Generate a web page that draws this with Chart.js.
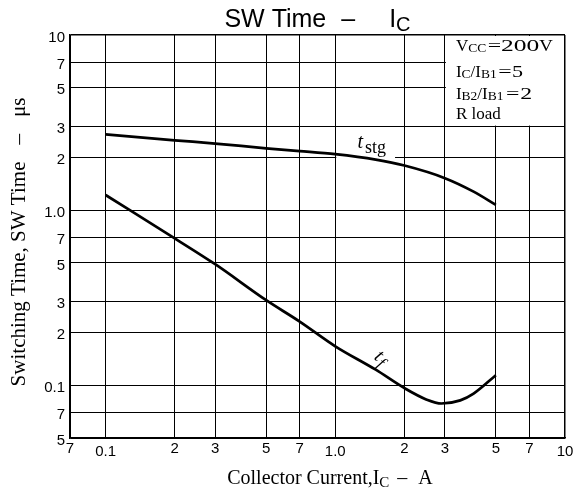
<!DOCTYPE html>
<html>
<head>
<meta charset="utf-8">
<script src="https://cdn.jsdelivr.net/npm/chart.js@4.4.1/dist/chart.umd.min.js"></script>
<style>
html,body{margin:0;padding:0;background:#fff;}
#wrap{width:585px;height:492px;position:relative;}
</style>
</head>
<body>
<div id="wrap"><canvas id="c"></canvas></div>
<script>
// ---- data ----
const xTickValues = [0.07, 0.1, 0.2, 0.3, 0.5, 0.7, 1, 2, 3, 5, 7, 10];
const xTickLabels = ['7', '0.1', '2', '3', '5', '7', '1.0', '2', '3', '5', '7', '10'];
const yTickValues = [0.05, 0.07, 0.1, 0.2, 0.3, 0.5, 0.7, 1, 2, 3, 5, 7, 10];
const yTickLabels = ['5', '7', '0.1', '2', '3', '5', '7', '1.0', '2', '3', '5', '7', '10'];

const tstgCurrent = [0.1, 0.2, 0.3, 0.5, 0.7, 1.0, 1.5, 2.0, 3.0, 4.0, 5.0];
const tstgTime    = [2.71, 2.505, 2.40, 2.255, 2.175, 2.087, 1.942, 1.797, 1.523, 1.276, 1.072];

const tfCurrent = [0.1, 0.2, 0.3, 0.5, 0.7, 1.0, 1.5, 2.0, 2.5, 2.9, 3.5, 4.0, 5.0];
const tfTime    = [1.22, 0.69, 0.491, 0.306, 0.231, 0.167, 0.1227, 0.0963, 0.0828, 0.0787, 0.0820, 0.0896, 0.1142];

const SANS = "'Liberation Sans', Arial, sans-serif";
const SERIF = "'Liberation Serif', 'Times New Roman', serif";

function segWidth(ctx, segs) {
  let w = 0;
  for (const s of segs) { ctx.font = s.f; w += (s.gap || 0) + ctx.measureText(s.t).width * (s.sx || 1); }
  return w;
}
function drawSegs(ctx, segs, x, y) {
  let cx = x;
  for (const s of segs) {
    cx += s.gap || 0;
    ctx.font = s.f;
    const w = ctx.measureText(s.t).width;
    ctx.save();
    ctx.translate(cx, y + (s.dy || 0));
    ctx.scale(s.sx || 1, 1);
    ctx.fillText(s.t, 0, 0);
    ctx.restore();
    cx += w * (s.sx || 1);
  }
}

const decorPlugin = {
  id: 'decor',
  beforeDatasetsDraw(chart) {
    const {ctx, chartArea: a, scales: {x, y}} = chart;
    ctx.save();
    ctx.fillStyle = '#fff';
    // condition box (covers the grid)
    const bx0 = x.getPixelForValue(3) + 1, by1 = y.getPixelForValue(3) - 1;
    ctx.fillRect(bx0, a.top + 1, a.right - 1 - bx0, by1 - a.top - 1);
    // background behind t_stg label
    const lx0 = x.getPixelForValue(1.01), lx1 = x.getPixelForValue(1.82);
    const ly0 = y.getPixelForValue(2.9), ly1 = y.getPixelForValue(1.92);
    ctx.fillRect(lx0, ly0, lx1 - lx0, ly1 - ly0);
    ctx.restore();
  },
  afterDraw(chart) {
    const {ctx, chartArea: a, scales: {x, y}} = chart;
    ctx.save();
    ctx.fillStyle = '#000';
    ctx.textBaseline = 'alphabetic';
    ctx.textAlign = 'left';

    // title
    const tSegs = [
      {t: 'SW Time', f: `25px ${SANS}`},
      {t: '–', f: `25px ${SANS}`, gap: 15},
      {t: 'I', f: `25px ${SANS}`, gap: 34},
      {t: 'C', f: `20px ${SANS}`, dy: 3.5}
    ];
    const tw = segWidth(ctx, tSegs);
    drawSegs(ctx, tSegs, (a.left + a.right) / 2 - tw / 2, a.top - 8);

    // x axis title
    const xSegs = [
      {t: 'Collector Current,I', f: `20px ${SERIF}`},
      {t: 'C', f: `15px ${SERIF}`, dy: 3},
      {t: '–', f: `20px ${SERIF}`, gap: 8},
      {t: 'A', f: `20px ${SERIF}`, gap: 11}
    ];
    const xw = segWidth(ctx, xSegs);
    drawSegs(ctx, xSegs, (a.left + a.right) / 2 + 12.5 - xw / 2, a.bottom + 46);

    // y axis title
    const ySegs = [
      {t: 'Switching Time, SW Time', f: `21px ${SERIF}`},
      {t: '–', f: `21px ${SERIF}`, gap: 17},
      {t: 'μs', f: `21px ${SERIF}`, gap: 17}
    ];
    const yw = segWidth(ctx, ySegs);
    ctx.save();
    ctx.translate(a.left - 45, 242);
    ctx.rotate(-Math.PI / 2);
    drawSegs(ctx, ySegs, -yw / 2, 0);
    ctx.restore();

    // condition box text
    const bx = x.getPixelForValue(3) + 11;
    const M = `17px ${SERIF}`, S = `13.5px ${SERIF}`;
    drawSegs(ctx, [
      {t: 'V', f: M}, {t: 'CC', f: S, dy: 1},
      {t: '=', f: M, gap: 1.5, sx: 1.4}, {t: '200', f: M, sx: 1.5}, {t: 'V', f: M, sx: 1.1}
    ], bx, a.top + 16);
    drawSegs(ctx, [
      {t: 'I', f: M}, {t: 'C', f: S, dy: 1}, {t: '/I', f: M}, {t: 'B1', f: S, dy: 1},
      {t: '=', f: M, gap: 1.5, sx: 1.4}, {t: '5', f: M, gap: 0.5, sx: 1.3}
    ], bx, a.top + 42);
    drawSegs(ctx, [
      {t: 'I', f: M}, {t: 'B2', f: S, dy: 1}, {t: '/I', f: M}, {t: 'B1', f: S, dy: 1},
      {t: '=', f: M, gap: 2.5, sx: 1.4}, {t: '2', f: M, gap: 1, sx: 1.4}
    ], bx, a.top + 64);
    drawSegs(ctx, [{t: 'R load', f: M}], bx, a.top + 84);

    // t_stg label
    drawSegs(ctx, [
      {t: 't', f: `italic 20px ${SERIF}`},
      {t: 'stg', f: `18px ${SERIF}`, dy: 5, gap: 2}
    ], x.getPixelForValue(1.25), y.getPixelForValue(2.27));

    // t_f label (rotated along the curve)
    const fSegs = [
      {t: 't', f: `italic 20px ${SERIF}`},
      {t: 'f', f: `italic 17px ${SERIF}`, dy: 4, gap: 1}
    ];
    const fw = segWidth(ctx, fSegs);
    ctx.save();
    ctx.translate(x.getPixelForValue(1.55), y.getPixelForValue(0.1387));
    ctx.rotate(38 * Math.PI / 180);
    drawSegs(ctx, fSegs, -fw / 2, 2);
    ctx.restore();

    ctx.restore();
  }
};

const lowered = [0.1, 1, 10];

new Chart(document.getElementById('c'), {
  type: 'line',
  data: {
    datasets: [
      {
        label: 'tstg',
        data: tstgCurrent.map((v, i) => ({x: v, y: tstgTime[i]})),
        borderColor: '#000', borderWidth: 2.7, pointRadius: 0,
        cubicInterpolationMode: 'monotone', fill: false
      },
      {
        label: 'tf',
        data: tfCurrent.map((v, i) => ({x: v, y: tfTime[i]})),
        borderColor: '#000', borderWidth: 2.7, pointRadius: 0,
        cubicInterpolationMode: 'monotone', fill: false
      }
    ]
  },
  options: {
    responsive: true,
    maintainAspectRatio: false,
    animation: false,
    layout: {padding: {left: 0, right: 20, top: 35, bottom: 0}},
    plugins: {legend: {display: false}, tooltip: {enabled: false}, title: {display: false}},
    scales: {
      x: {
        type: 'logarithmic', min: 0.07, max: 10,
        afterBuildTicks: s => { s.ticks = xTickValues.map(v => ({value: v})); },
        afterFit: s => { s.height = 54; },
        grid: {color: '#000', drawTicks: false, lineWidth: c => (c.tick && c.tick.value === 10 ? 1.5 : 1)},
        border: {display: true, color: '#000', width: 1.5},
        ticks: {
          autoSkip: false, maxRotation: 0, minRotation: 0, padding: 2, color: '#000',
          font: c => ({family: SANS, size: 15, lineHeight: (c.tick && lowered.includes(c.tick.value)) ? 1.6 : 1.2}),
          callback: (v, i) => xTickLabels[i]
        }
      },
      y: {
        type: 'logarithmic', min: 0.05, max: 10,
        afterBuildTicks: s => { s.ticks = yTickValues.map(v => ({value: v})); },
        afterFit: s => { s.width = 70; },
        grid: {color: '#000', drawTicks: false, lineWidth: c => (c.tick && c.tick.value === 10 ? 1.5 : 1)},
        border: {display: true, color: '#000', width: 1.5},
        ticks: {
          autoSkip: false, padding: 5, labelOffset: 2.5, color: '#000',
          font: {family: SANS, size: 15},
          callback: (v, i) => yTickLabels[i]
        }
      }
    }
  },
  plugins: [decorPlugin]
});
</script>
</body>
</html>
